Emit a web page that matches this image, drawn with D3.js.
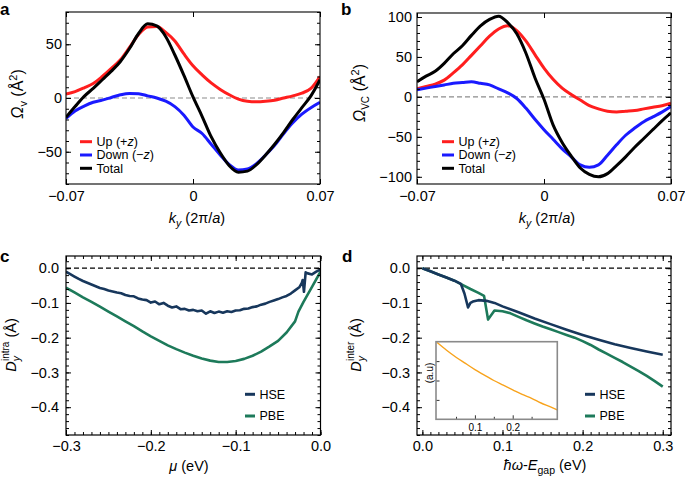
<!DOCTYPE html>
<html><head><meta charset="utf-8">
<script src="https://cdn.jsdelivr.net/npm/d3@7"></script>
<style>body{margin:0;background:#fff}svg{display:block}</style>
</head><body><svg id="chart" width="685" height="481"></svg>
<script>
// ---------- data ----------
const kGrid = [-0.07,-0.065,-0.06,-0.055,-0.05,-0.045,-0.04,-0.035,-0.03,-0.025,-0.02,-0.015,-0.01,-0.005,0,0.005,0.01,0.015,0.02,0.025,0.03,0.035,0.04,0.045,0.05,0.055,0.06,0.065,0.07];
const aUp    = [3.7,6,9.5,13.5,20,27.5,35.5,47,59,66,66.5,61,53,41,30,21.5,14,8,3,-1,-3,-3.5,-3,-2,0,2,4.5,9,20];
const aDown  = [-19,-12,-7.5,-4,-2,0.5,3,4.3,4,2,0,-3,-8,-16,-27,-33,-43,-53,-62,-67,-66,-61,-53,-44,-33,-23,-15,-9,-4];
const aTotal = [-18,-8,1.5,9,17,25,34,46,60,69,67,57,40,21,1,-17,-36,-51,-63,-69,-68,-62,-53,-43,-32,-20,-9,2,17];
const bUp    = [10,13,16,21,30,40,52,64,76,85,89,83,70,53,36,22,11,3,-4,-11,-15,-18,-19,-18,-17,-15,-13,-11,-8];
const bDown  = [9,11,13,15,17,18,19,17,15,10,5,-2,-14,-28,-41,-53,-65,-75,-85,-88,-85,-73,-60,-48,-39,-31,-25,-19,-12];
const bTotal = [19,26,32,42,54,64,77,89,97,101,93,79,55,24,-3,-35,-57,-74,-89,-97,-100,-96,-86,-75,-63,-52,-41,-30,-20];

const hseMu = [-0.300,-0.295,-0.290,-0.285,-0.280,-0.275,-0.270,-0.265,-0.260,-0.255,-0.250,-0.245,-0.240,-0.235,-0.230,-0.225,-0.220,-0.215,-0.210,-0.205,-0.200,-0.195,-0.190,-0.185,-0.180,-0.175,-0.170,-0.165,-0.160,-0.155,-0.150,-0.145,-0.140,-0.135,-0.130,-0.125,-0.120,-0.115,-0.110,-0.105,-0.100,-0.095,-0.090,-0.085,-0.080,-0.075,-0.070,-0.065,-0.060,-0.055,-0.050,-0.045,-0.040,-0.035,-0.030,-0.025,-0.022,-0.021,-0.0195,-0.0175,-0.015,-0.010,-0.005,0.000];
const hseIntra = [-0.010,-0.017,-0.024,-0.031,-0.037,-0.042,-0.047,-0.052,-0.057,-0.060,-0.064,-0.067,-0.070,-0.072,-0.077,-0.080,-0.081,-0.087,-0.090,-0.092,-0.099,-0.096,-0.104,-0.100,-0.108,-0.113,-0.110,-0.118,-0.117,-0.122,-0.120,-0.124,-0.122,-0.131,-0.124,-0.129,-0.125,-0.128,-0.124,-0.126,-0.122,-0.121,-0.117,-0.116,-0.112,-0.110,-0.105,-0.102,-0.097,-0.093,-0.089,-0.084,-0.080,-0.073,-0.064,-0.055,-0.042,-0.034,-0.068,-0.012,-0.015,-0.018,-0.010,-0.004];
const pbeMu = [-0.30,-0.29,-0.28,-0.27,-0.26,-0.25,-0.24,-0.23,-0.22,-0.21,-0.20,-0.19,-0.18,-0.17,-0.16,-0.15,-0.14,-0.13,-0.12,-0.11,-0.10,-0.09,-0.08,-0.07,-0.06,-0.05,-0.04,-0.03,-0.026,-0.02,-0.01,0];
const pbeIntra = [-0.056,-0.070,-0.084,-0.097,-0.111,-0.125,-0.139,-0.153,-0.167,-0.182,-0.196,-0.209,-0.222,-0.233,-0.243,-0.252,-0.260,-0.266,-0.270,-0.270,-0.267,-0.261,-0.252,-0.240,-0.225,-0.209,-0.185,-0.153,-0.125,-0.097,-0.054,-0.010];

const hseW = [0,0.01,0.02,0.03,0.04,0.048,0.0525,0.057,0.060,0.063,0.070,0.080,0.09,0.10,0.12,0.14,0.16,0.18,0.20,0.22,0.24,0.26,0.28,0.30];
const hseInter = [0,-0.009,-0.018,-0.027,-0.036,-0.045,-0.073,-0.113,-0.100,-0.096,-0.092,-0.094,-0.100,-0.110,-0.127,-0.145,-0.161,-0.177,-0.192,-0.206,-0.219,-0.230,-0.240,-0.249];
const pbeW = [0,0.01,0.02,0.03,0.04,0.05,0.06,0.07,0.077,0.082,0.090,0.10,0.11,0.12,0.13,0.14,0.15,0.16,0.17,0.18,0.19,0.20,0.21,0.22,0.23,0.24,0.25,0.26,0.27,0.28,0.29,0.30];
const pbeInter = [0,-0.009,-0.018,-0.027,-0.036,-0.048,-0.060,-0.071,-0.080,-0.148,-0.122,-0.124,-0.130,-0.140,-0.150,-0.159,-0.168,-0.176,-0.184,-0.192,-0.200,-0.210,-0.221,-0.234,-0.246,-0.258,-0.270,-0.283,-0.296,-0.310,-0.325,-0.341];

const insetW  = [0,0.025,0.05,0.075,0.1,0.125,0.15,0.175,0.2,0.225,0.25,0.275,0.3,0.318];
const insetAU = [0.99,0.89,0.80,0.72,0.64,0.57,0.50,0.44,0.38,0.32,0.27,0.21,0.16,0.12];

const kTicks = [-0.07,0,0.07];
const kTickLabels = ["\u22120.07","0","0.07"];
const aYTicks = [-50,0,50];
const aYTickLabels = ["\u221250","0","50"];
const bYTicks = [-100,-50,0,50,100];
const bYTickLabels = ["\u2212100","\u221250","0","50","100"];
const dYTicks = [0,-0.1,-0.2,-0.3,-0.4];
const dYTickLabels = ["0.0","\u22120.1","\u22120.2","\u22120.3","\u22120.4"];
const muTicks = [-0.3,-0.2,-0.1,0];
const muTickLabels = ["\u22120.3","\u22120.2","\u22120.1","0.0"];
const wTicks = [0,0.1,0.2,0.3];
const wTickLabels = ["0.0","0.1","0.2","0.3"];
const insetTicks = [0.1,0.2];
const insetTickLabels = ["0.1","0.2"];

const legendAB = ["Up", "Down", "Total"];
const legendCD = ["HSE", "PBE"];

// ---------- style ----------
const FONT = '"Liberation Sans", Arial, Helvetica, sans-serif';
const RED = "#ff1e1e", BLUE = "#1a1aff", BLACK = "#000000";
const NAVY = "#17375c", GREEN = "#1d7a5a", ORANGE = "#f8a31c";
const svg = d3.select("#chart");
svg.append("rect").attr("width",685).attr("height",481).attr("fill","#fff");

function rich(sel, parts) {
  parts.forEach(p => {
    const t = sel.append("tspan").text(p.t);
    if (p.i) t.attr("font-style","italic");
    if (p.fs) t.attr("font-size", p.fs);
    if (p.dx !== undefined) t.attr("dx", p.dx);
    if (p.dy !== undefined) t.attr("dy", p.dy);
  });
  return sel;
}

function axisPart(g, gen, tr, vals, len, labels, pad, fs) {
  const fmt = labels ? ((d,i) => labels[i]) : (() => "");
  const a = g.append("g").attr("transform", tr)
    .call(gen.tickValues(vals).tickSize(-len).tickPadding(pad).tickFormat(fmt));
  a.select(".domain").remove();
  a.attr("font-family", null).attr("font-size", null);
  a.selectAll("line").attr("stroke","#000").attr("stroke-width",1);
  a.selectAll("text").attr("font-family", FONT).attr("font-size", fs).attr("fill","#000");
  return a;
}

let clipId = 0;
function panel(o) {
  const g = svg.append("g");
  const x = d3.scaleLinear().domain(o.xd).range([o.x0, o.x1]);
  const y = d3.scaleLinear().domain(o.yd).range([o.y1, o.y0]);
  const id = "clip" + (clipId++);
  svg.append("clipPath").attr("id", id).append("rect")
    .attr("x", o.x0).attr("y", o.y0).attr("width", o.x1 - o.x0).attr("height", o.y1 - o.y0);
  g.append("line").attr("x1", o.x0).attr("x2", o.x1).attr("y1", y(0)).attr("y2", y(0))
    .attr("stroke", o.zeroColor).attr("stroke-width", 1.1).attr("stroke-dasharray", "5,3");
  const lg = g.append("g").attr("clip-path", `url(#${id})`);
  o.series.forEach(s => {
    const data = s.x.map((v, i) => [v, s.y[i]]);
    lg.append("path").datum(data)
      .attr("d", d3.line().x(d => x(d[0])).y(d => y(d[1])).curve(s.curve || d3.curveLinear))
      .attr("fill","none").attr("stroke", s.color).attr("stroke-width", s.w)
      .attr("stroke-linejoin","round").attr("stroke-linecap","butt");
  });
  const fs = 14.5;
  axisPart(g, d3.axisBottom(x), `translate(0,${o.y1})`, o.xMinor, 3, null, 0, fs);
  axisPart(g, d3.axisBottom(x), `translate(0,${o.y1})`, o.xTicks, 5, o.xLabels, o.xPad, fs);
  axisPart(g, d3.axisTop(x), `translate(0,${o.y0})`, o.xMinor, 3, null, 0, fs);
  axisPart(g, d3.axisTop(x), `translate(0,${o.y0})`, o.xTicks, 5, null, 0, fs);
  axisPart(g, d3.axisLeft(y), `translate(${o.x0},0)`, o.yMinor, 3, null, 0, fs);
  axisPart(g, d3.axisLeft(y), `translate(${o.x0},0)`, o.yTicks, 5, o.yLabels, o.yPad, fs);
  axisPart(g, d3.axisRight(y), `translate(${o.x1},0)`, o.yMinor, 3, null, 0, fs);
  axisPart(g, d3.axisRight(y), `translate(${o.x1},0)`, o.yTicks, 5, null, 0, fs);
  g.append("rect").attr("x", o.x0).attr("y", o.y0).attr("width", o.x1 - o.x0).attr("height", o.y1 - o.y0)
    .attr("fill","none").attr("stroke","#000").attr("stroke-width", o.frameW || 1.1);
  rich(g.append("text").attr("transform", `translate(${o.yt[0]},${o.yt[1]}) rotate(-90)`)
    .attr("text-anchor","middle").attr("font-family",FONT).attr("font-size",o.ytFs || fs), o.yTitle);
  rich(g.append("text").attr("x", o.xt[0]).attr("y", o.xt[1])
    .attr("text-anchor","middle").attr("font-family",FONT).attr("font-size",fs), o.xTitle);
  g.append("text").attr("x", o.letter[0]).attr("y", o.letter[1]).text(o.letter[2])
    .attr("font-family",FONT).attr("font-weight","bold").attr("font-size",17);
  o.legend.items.forEach((it, i) => {
    const ly = o.legend.y + i * o.legend.dy;
    g.append("line").attr("x1", o.legend.x).attr("x2", o.legend.x + o.legend.len)
      .attr("y1", ly).attr("y2", ly).attr("stroke", it.color).attr("stroke-width", 3);
    rich(g.append("text").attr("x", o.legend.x + o.legend.len + 4.5).attr("y", ly + 4.4)
      .attr("font-family",FONT).attr("font-size",12.5), it.parts);
  });
  return {g, x, y};
}

const r10 = (a, b) => d3.range(a, b + 1, 10);
const frac = (lo, hi, step) => d3.range(Math.round(lo/step), Math.round(hi/step) + 1).map(i => +(i*step).toFixed(4));

const legABItems = [
  {color: RED, parts: [{t: legendAB[0] + " (+"}, {t:"z", i:1}, {t:")"}]},
  {color: BLUE, parts: [{t: legendAB[1] + " (\u2212"}, {t:"z", i:1}, {t:")"}]},
  {color: BLACK, parts: [{t: legendAB[2]}]}
];
const kTitle = [{t:"k", i:1}, {t:"y", i:1, fs:10.5, dy:4}, {t:" (2\u03c0/", dy:-4}, {t:"a", i:1}, {t:")"}];

panel({
  x0:66, x1:320, y0:12, y1:184, xd:[-0.07,0.07], yd:[-80,80],
  xTicks:kTicks, xLabels:kTickLabels, xMinor:[], xPad:7,
  yTicks:aYTicks, yLabels:aYTickLabels, yMinor:r10(-80,80), yPad:4,
  zeroColor:"#8c8c8c",
  series:[
    {x:kGrid, y:aUp, color:RED, w:3, curve:d3.curveMonotoneX},
    {x:kGrid, y:aDown, color:BLUE, w:3, curve:d3.curveMonotoneX},
    {x:kGrid, y:aTotal, color:BLACK, w:3, curve:d3.curveMonotoneX}
  ],
  yt:[23,94], ytFs:16, yTitle:[{t:"\u03a9", i:1}, {t:"v", fs:11, dy:4}, {t:" (\u00c5", dy:-4}, {t:"2", fs:11, dy:-6}, {t:")", dy:6}],
  xt:[197,222.5], xTitle:kTitle,
  letter:[0,15,"a"],
  legend:{x:80, y:141.7, dy:13.3, len:12, items:legABItems}
});

panel({
  x0:417, x1:671, y0:13, y1:184, xd:[-0.07,0.07], yd:[-109,105],
  xTicks:kTicks, xLabels:kTickLabels, xMinor:[], xPad:7,
  yTicks:bYTicks, yLabels:bYTickLabels, yMinor:r10(-100,100), yPad:5,
  zeroColor:"#8c8c8c",
  series:[
    {x:kGrid, y:bUp, color:RED, w:3, curve:d3.curveMonotoneX},
    {x:kGrid, y:bDown, color:BLUE, w:3, curve:d3.curveMonotoneX},
    {x:kGrid, y:bTotal, color:BLACK, w:3, curve:d3.curveMonotoneX}
  ],
  yt:[365,93], ytFs:16, yTitle:[{t:"\u03a9", i:1}, {t:"VC", fs:10, dy:4}, {t:" (\u00c5", dy:-4}, {t:"2", fs:11, dy:-6}, {t:")", dy:6}],
  xt:[547,222.5], xTitle:kTitle,
  letter:[341,15,"b"],
  legend:{x:442, y:141.7, dy:13.3, len:12, items:legABItems}
});

const legCDItems = [
  {color: NAVY, parts:[{t: legendCD[0]}]},
  {color: GREEN, parts:[{t: legendCD[1]}]}
];

panel({
  x0:66, x1:320.5, y0:256, y1:435, xd:[-0.3,0], yd:[-0.48,0.035],
  xTicks:muTicks, xLabels:muTickLabels, xMinor:frac(-0.3,0,0.01), xPad:6,
  yTicks:dYTicks, yLabels:dYTickLabels, yMinor:frac(-0.48,0.02,0.02), yPad:7,
  zeroColor:"#000", frameW:1.2,
  series:[
    {x:pbeMu, y:pbeIntra, color:GREEN, w:2.6},
    {x:hseMu, y:hseIntra, color:NAVY, w:2.6}
  ],
  yt:[16,345], yTitle:[{t:"D", i:1}, {t:"y", i:1, fs:10.5, dy:4}, {t:"intra", fs:10, dx:-5, dy:-11}, {t:" (\u00c5)", dy:7}],
  xt:[189,471], xTitle:[{t:"\u03bc", i:1}, {t:" (eV)"}],
  letter:[0,262,"c"],
  legend:{x:245, y:394.3, dy:21.7, len:10, items:legCDItems}
});

const pd = panel({
  x0:417, x1:671, y0:256, y1:435, xd:[-0.0067,0.3103], yd:[-0.48,0.035],
  xTicks:wTicks, xLabels:wTickLabels, xMinor:frac(0,0.31,0.01), xPad:6,
  yTicks:dYTicks, yLabels:dYTickLabels, yMinor:frac(-0.48,0.02,0.02), yPad:7,
  zeroColor:"#000", frameW:1.2,
  series:[
    {x:pbeW, y:pbeInter, color:GREEN, w:2.6},
    {x:hseW, y:hseInter, color:NAVY, w:2.6}
  ],
  yt:[361,345], yTitle:[{t:"D", i:1}, {t:"y", i:1, fs:10.5, dy:4}, {t:"inter", fs:10, dx:-5, dy:-11}, {t:" (\u00c5)", dy:7}],
  xt:[545,470], xTitle:[{t:"\u0127\u03c9", i:1}, {t:"-"}, {t:"E", i:1}, {t:"gap", fs:10.5, dy:4}, {t:" (eV)", dy:-4}],
  letter:[342,262,"d"],
  legend:{x:585, y:394.3, dy:21.7, len:10, items:legCDItems}
});

(function(){
  const X0 = 436, X1 = 557.3, Y0 = 341.7, Y1 = 419.3;
  const g = pd.g.append("g");
  const x = d3.scaleLinear().domain([-0.003,0.318]).range([X0,X1]);
  const y = d3.scaleLinear().domain([0,1]).range([Y1,Y0]);
  g.append("rect").attr("x",X0).attr("y",Y0).attr("width",X1-X0).attr("height",Y1-Y0).attr("fill","#fff");
  const id = "clipInset";
  svg.append("clipPath").attr("id", id).append("rect").attr("x",X0).attr("y",Y0).attr("width",X1-X0).attr("height",Y1-Y0);
  g.append("path").datum(insetW.map((v,i)=>[v, insetAU[i]])).attr("clip-path",`url(#${id})`)
    .attr("d", d3.line().x(d=>x(d[0])).y(d=>y(d[1])).curve(d3.curveMonotoneX))
    .attr("fill","none").attr("stroke",ORANGE).attr("stroke-width",1.4);
  const b1 = axisPart(g, d3.axisBottom(x), `translate(0,${Y1})`, [0.05,0.15,0.25], 2.5, null, 0, 10);
  const b2 = axisPart(g, d3.axisBottom(x), `translate(0,${Y1})`, insetTicks, 4, insetTickLabels, 4.5, 10);
  const l1 = axisPart(g, d3.axisLeft(y), `translate(${X0},0)`, [0.25,0.5,0.75], 3.5, null, 0, 10);
  [b1,b2,l1].forEach(a => a.selectAll("line").attr("stroke","#333"));
  g.append("rect").attr("x",X0).attr("y",Y0).attr("width",X1-X0).attr("height",Y1-Y0)
    .attr("fill","none").attr("stroke","#8a8a8a").attr("stroke-width",1.6);
  g.append("text").attr("transform",`translate(433,373) rotate(-90)`).attr("text-anchor","middle")
    .attr("font-family",FONT).attr("font-size",10).text("(a.u)");
})();
</script>
</body></html>
